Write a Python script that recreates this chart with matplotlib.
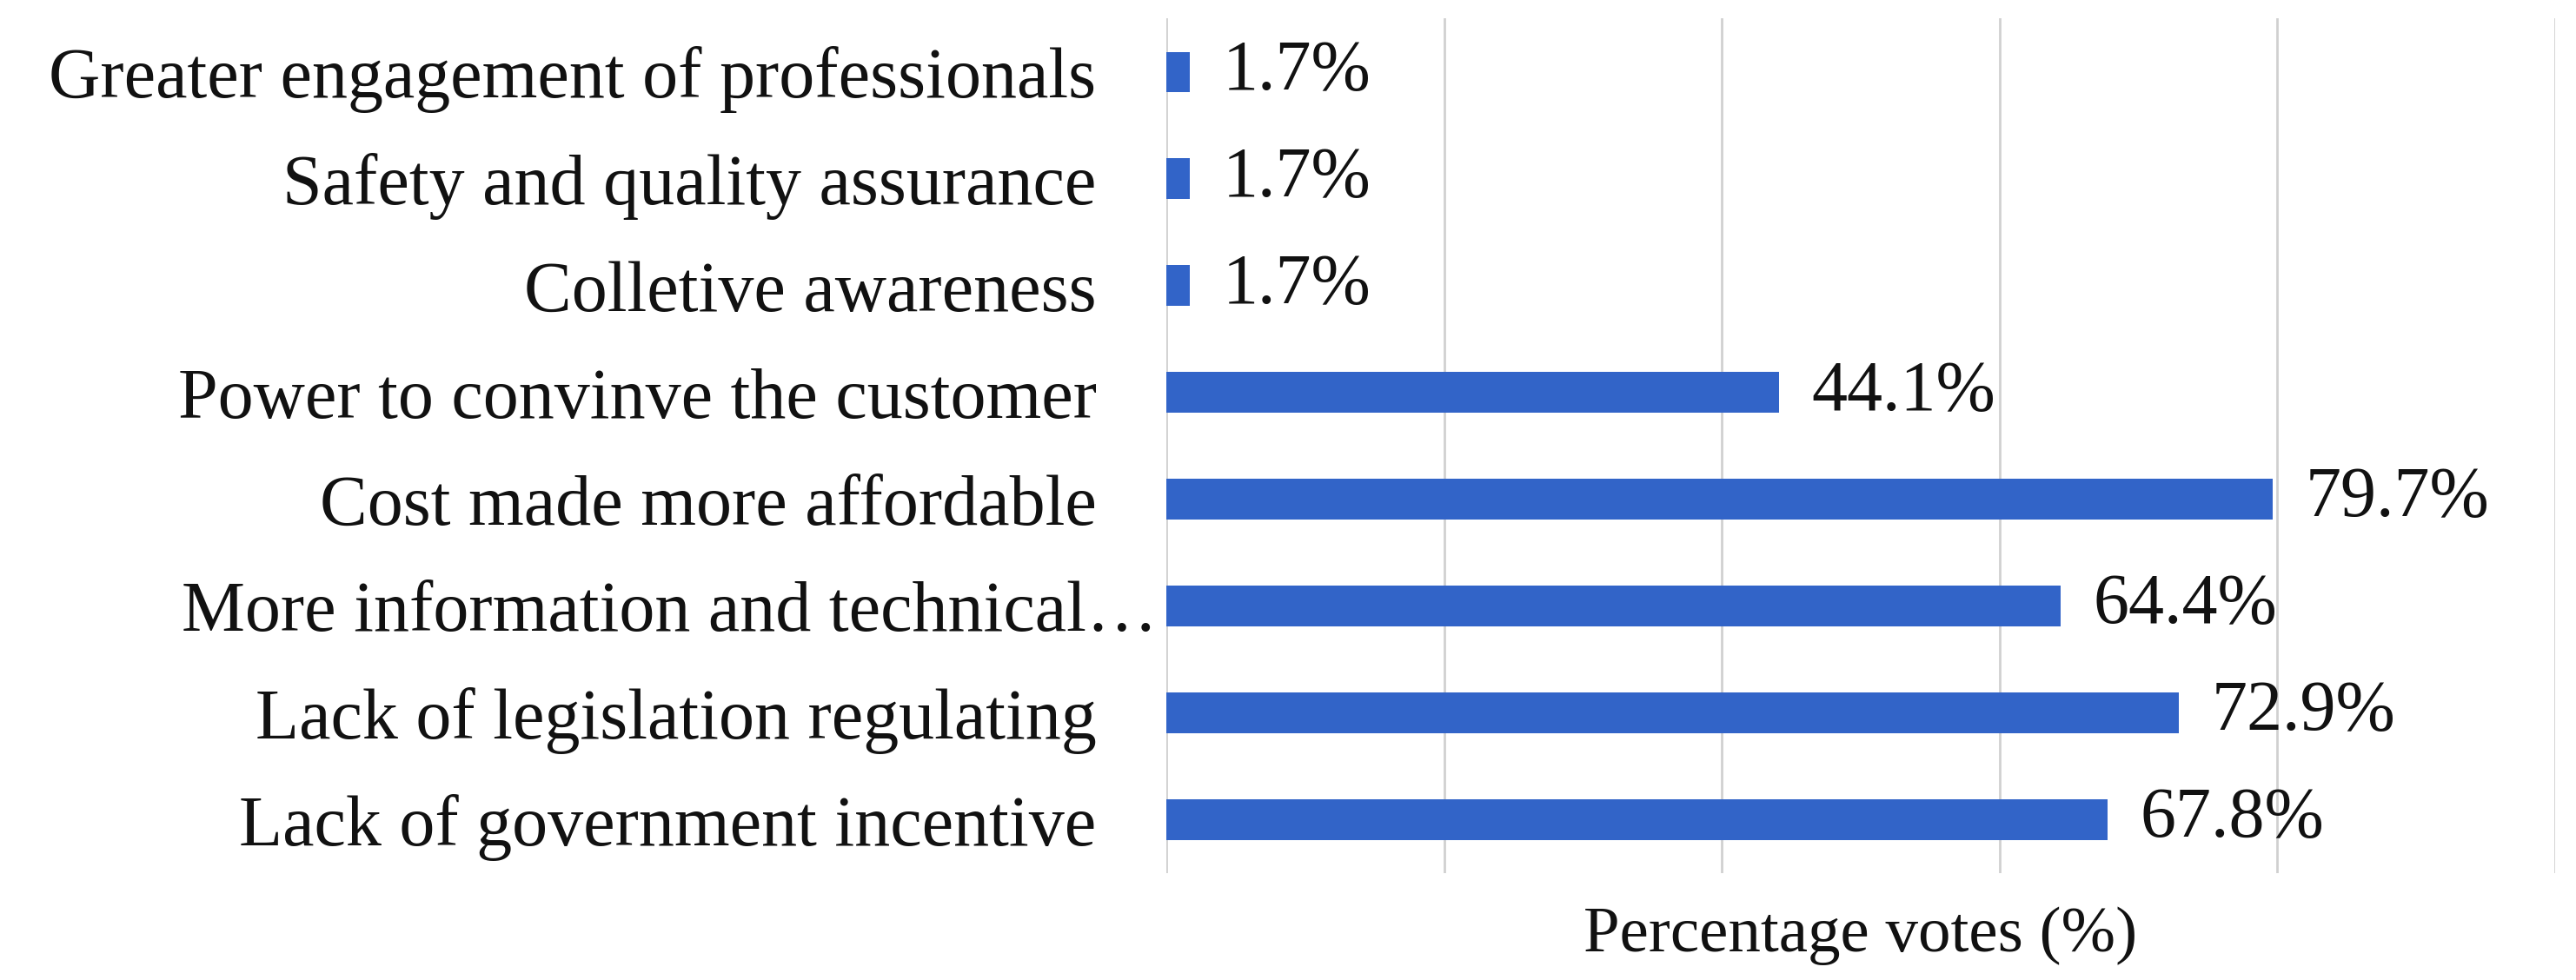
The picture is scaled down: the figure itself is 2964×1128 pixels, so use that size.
import matplotlib.pyplot as plt
from matplotlib.transforms import ScaledTranslation

# Survey results (top to bottom as displayed)
categories = [
    "Greater engagement of professionals",
    "Safety and quality assurance",
    "Colletive awareness",
    "Power to convinve the customer",
    "Cost made more affordable",
    "More information and technical\u2026",
    "Lack of legislation regulating",
    "Lack of government incentive",
]
votes = [1.7, 1.7, 1.7, 44.1, 79.7, 64.4, 72.9, 67.8]
value_labels = ["1.7%", "1.7%", "1.7%", "44.1%", "79.7%", "64.4%", "72.9%", "67.8%"]
x_ticks = [0, 20, 40, 60, 80, 100]

plt.rcParams['font.family'] = ['Liberation Serif', 'DejaVu Serif']
FS = 59

fig = plt.figure(figsize=(29.64, 11.28), dpi=100)
ax = fig.add_axes([0.4528, 0.109, 0.539, 0.872])

y_pos = list(range(len(categories)))[::-1]
bars = ax.barh(y_pos, votes, height=0.38, color='#3264c8', zorder=3)

ax.bar_label(bars, labels=value_labels, padding=27, fontsize=FS, color='#111111')

ax.set_xlim(0, 100)
ax.set_ylim(-0.5, len(categories) - 0.5)
ax.set_xticks(x_ticks)
ax.set_xticklabels([])
ax.set_yticks(y_pos)
ax.set_yticklabels(categories, fontsize=FS, color='#111111')
ax.tick_params(axis='both', length=0)
ax.tick_params(axis='y', pad=58)

# Excel lets the truncated label run closer to the axis
for lbl in ax.get_yticklabels():
    if lbl.get_text().endswith('\u2026'):
        lbl.set_transform(lbl.get_transform() + ScaledTranslation(0.7, 0, fig.dpi_scale_trans))

ax.grid(axis='x', color='#d0d0d0', linewidth=2, zorder=0)
for side in ['top', 'right', 'bottom', 'left']:
    ax.spines[side].set_visible(False)

ax.set_xlabel('Percentage votes (%)', fontsize=54, labelpad=24, color='#111111')

plt.savefig('out.png', dpi=100)
plt.close()
